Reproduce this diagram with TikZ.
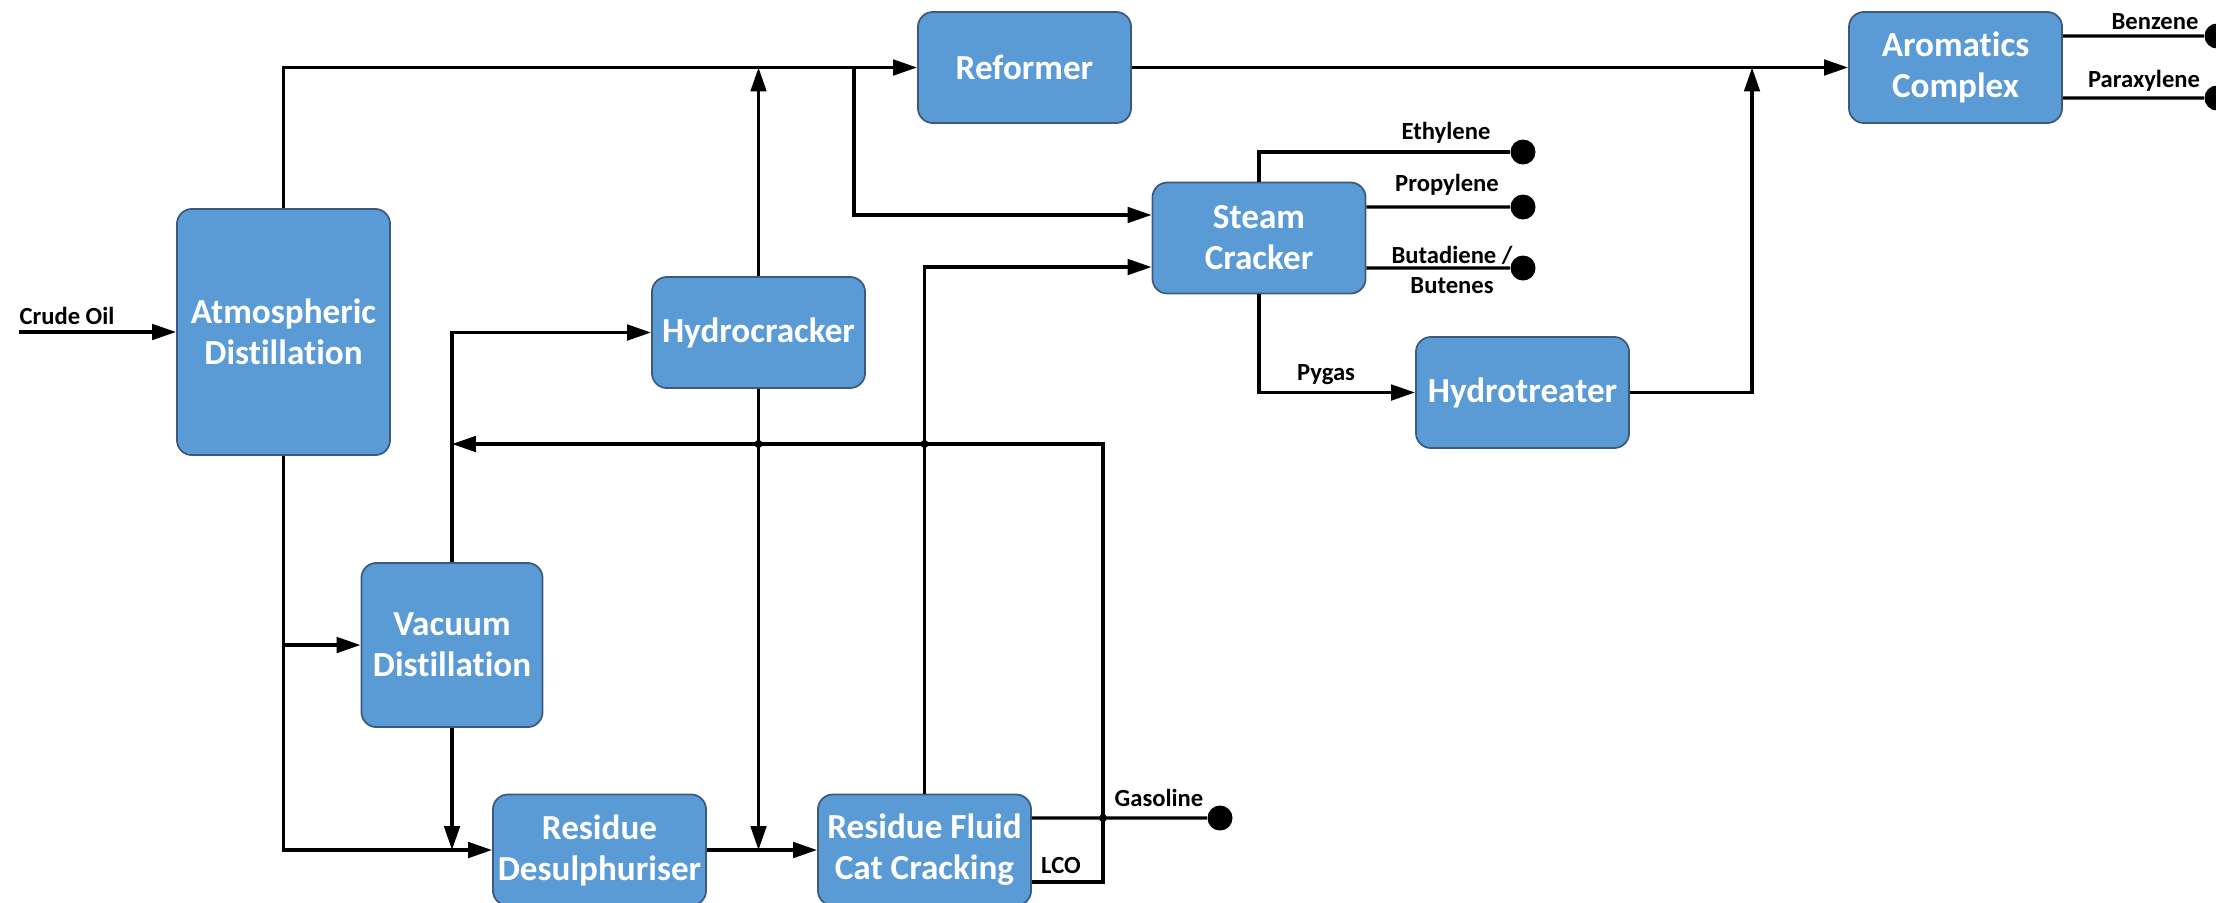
\documentclass[tikz,border=0pt]{standalone}
\usepackage{fontspec}
\setmainfont{Carlito}[Ligatures=NoCommon]
\usetikzlibrary{arrows.meta}
\definecolor{unitblue}{RGB}{91,155,213}
\definecolor{unitedge}{RGB}{60,90,125}
\begin{document}
\begin{tikzpicture}[x=0.01cm,y=-0.01cm,
    unit/.style={rectangle, rounded corners=1.5mm, fill=unitblue, draw=unitedge, line width=0.5pt,
        text=white, font=\bfseries\fontsize{10}{11.7}\selectfont, align=center,
        minimum width=2.13cm, minimum height=1.11cm, inner sep=0pt},
    lbl/.style={font=\bfseries\fontsize{7}{8.6}\selectfont, align=center, inner sep=0pt},
    flow/.style={line width=0.95pt, -{Triangle[length=6.8pt,width=4.4pt]}},
    pipe/.style={line width=0.95pt},
    enddot/.style={circle, fill=black, minimum size=0.25cm, inner sep=0pt},
    joint/.style={circle, fill=black, minimum size=0.08cm, inner sep=0pt}]
        \useasboundingbox (0,0) rectangle (2216,902);

        % Unita'
        \node[unit, minimum height=2.46cm] (ad) at (283.5,332) {Atmospheric\\Distillation};
        \node[unit] (ref) at (1024.5,67.5) {Reformer};
        \node[unit] (hc) at (758.5,332.5) {Hydrocracker};
        \node[unit] (sc) at (1259,238) {Steam\\Cracker};
        \node[unit] (ht) at (1522.5,392.5) {Hydrotreater};
        \node[unit] (ac) at (1955.5,67.5) {Aromatics\\Complex};
        \node[unit, minimum width=1.81cm, minimum height=1.64cm] (vd) at (452,645) {Vacuum\\Distillation};
        \node[unit] (rd) at (599.5,850) {Residue\\Desulphuriser};
        \node[unit] (rfcc) at (924.5,850) {Residue Fluid\\Cat Cracking};

        % Punti liberi
        \coordinate (crudein) at (19,332);
        \coordinate (tapref) at (854,67.5);
        \coordinate (tapvd) at (283.5,645);
        \coordinate (htjoin) at (1752,67.5);
        \coordinate (lcoup) at (1103,444);
        \coordinate (recyc) at (452,444);

        % Prodotti
        \node[enddot] (benz) at (2217,36) {};
        \node[enddot] (pxyl) at (2217,98) {};
        \node[enddot] (ethy) at (1523,152) {};
        \node[enddot] (prop) at (1523,207) {};
        \node[enddot] (buta) at (1523,268) {};
        \node[enddot] (gaso) at (1220,818) {};

        % Etichette
        \node[lbl] (crude) at (67,316) {Crude Oil};
        \node[lbl] (lbenz) at (2155,22) {Benzene};
        \node[lbl] (lpxyl) at (2144,81) {Paraxylene};
        \node[lbl] (lethy) at (1446,133) {Ethylene};
        \node[lbl] (lprop) at (1447,185) {Propylene};
        \node[lbl] (lbuta) at (1452,270) {Butadiene /\\Butenes};
        \node[lbl] (lpyg) at (1326,375) {Pygas};
        \node[lbl] (lgaso) at (1159,798) {Gasoline};
        \node[lbl] (llco) at (1061,865) {LCO};

        % Linea alta
        \draw[flow] (crudein) -- (ad.west);
        \draw[flow] (ad.north) |- (ref.west);
        \draw[flow] (hc.north) -- (hc.north |- ref.west);
        \draw[flow] (tapref) |- ([yshift=2.3mm]sc.west);
        \draw[flow] (ref.east) -- (ac.west);
        \draw[flow] (ht.east) -| (htjoin);
        \draw[pipe] ([yshift=3.15mm]ac.east) -- (benz);
        \draw[pipe] ([yshift=-3.05mm]ac.east) -- (pxyl);

        % Steam cracker
        \draw[flow] (rfcc.north) |- ([yshift=-2.9mm]sc.west);
        \draw[pipe] (sc.north) |- (ethy);
        \draw[pipe] ([yshift=3.1mm]sc.east) -- (prop);
        \draw[pipe] ([yshift=-3mm]sc.east) -- (buta);
        \draw[flow] (sc.south) |- (ht.west);

        % Linea bassa
        \draw[flow] (ad.south) |- (rd.west);
        \draw[flow] (tapvd) -- (vd.west);
        \draw[flow] (vd.north) |- (hc.west);
        \draw[flow] (vd.south) -- (vd.south |- rd.west);
        \draw[flow] (hc.south) -- (hc.south |- rd.west);
        \draw[flow] (rd.east) -- (rfcc.west);
        \draw[pipe] ([yshift=3.2mm]rfcc.east) -- (gaso);
        \draw[flow] ([yshift=-3.2mm]rfcc.east) -| (lcoup) -- (recyc);

        % Giunzioni
        \node[joint] (j1) at (758.5,444) {};
        \node[joint] (j2) at (924.5,444) {};
        \node[joint] (j3) at (1103,818) {};
    \end{tikzpicture}
\end{document}
